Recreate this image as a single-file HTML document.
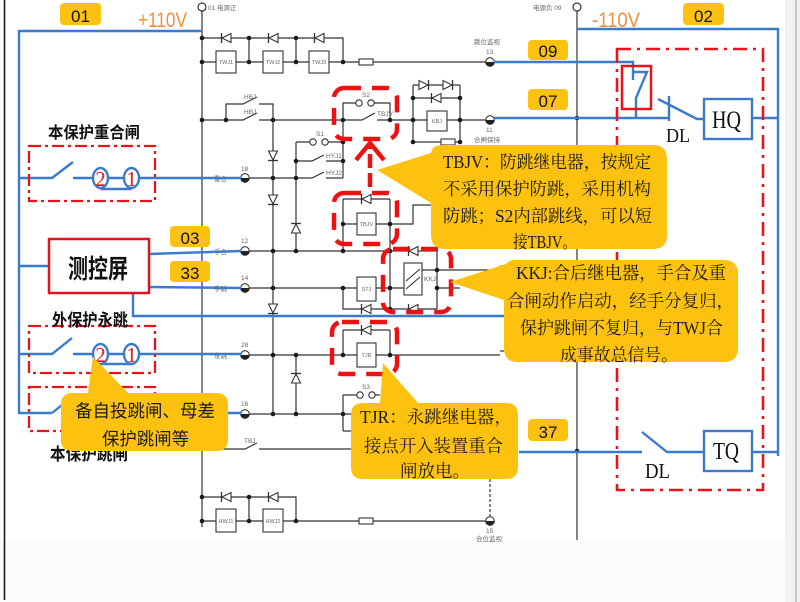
<!DOCTYPE html>
<html><head><meta charset="utf-8">
<style>html,body{margin:0;padding:0;background:#fff}svg{display:block}</style>
</head><body>
<svg xmlns="http://www.w3.org/2000/svg" width="800" height="602" viewBox="0 0 800 602">
<defs>
<g id="dr"><polygon points="-5,-4.5 -5,4.5 4,0" fill="#fff" stroke="#333" stroke-width="1.1"/><line x1="4.5" y1="-5" x2="4.5" y2="5" stroke="#333" stroke-width="1.3"/></g>
<circle id="j" r="2.3" fill="#1a1a1a"/>
<g id="t"><circle r="4.3" fill="#fff" stroke="#333" stroke-width="1.1"/><path d="M-4.3,0 A4.3,4.3 0 0 0 4.3,0 Z" fill="#222"/></g>
</defs>

<!-- background -->
<rect width="800" height="602" fill="#fff"/>
<rect x="0" y="541" width="785" height="61" fill="#fbfbf9"/>
<rect x="785" y="0" width="15" height="602" fill="#f2f2f2"/>
<line x1="796" y1="0" x2="796" y2="602" stroke="#9a9a9a" stroke-width="1"/>
<line x1="4.5" y1="0" x2="4.5" y2="600" stroke="#1a1a1a" stroke-width="1.6"/>

<!-- black circuit -->
<g fill="none" stroke="#333" stroke-width="1.2">
<path d="M202,11 V527"/>
<path d="M577,11 V540"/>
<path d="M202,38 H343 V62 M249,38 V62 M296,38 V62"/>
<path d="M202,62 H359 M373,62 H486"/>
<path d="M202,120 H243 L257,113 M259,120 H362 L375,113 M377,120 H486"/>
<path d="M226,120 V104 H243 L257,97 M259,104 H273 V120"/>
<path d="M343,120 V103 H355.8 M374.2,103 H390 V120"/>
<path d="M413,85 V142 M460,85 V142 M413,85 H460 M413,98 H460 M413,142 H460"/>
<path d="M343,120 V178 M296,142 H309.8 M328.2,142 H343 M296,161 H312 L324,155 M326,161 H343 M249,178 H312 L324,172 M326,178 H343"/>
<path d="M296,142 V251 M273,120 V414"/>
<path d="M343,199 V251 M390,199 V251 M343,199 H390 M343,224 H413 V205 H432"/>
<path d="M249,251 H437 V309 M390,251 V309"/>
<path d="M249,288 H404 M343,288 V309 H437"/>
<path d="M422,270 H500 M437,288 H460"/>
<path d="M249,355 H500 M343,330 V355 M390,330 V355 M343,330 H390"/>
<path d="M296,355 V414"/>
<path d="M249,414 H352 M343,395 V431 M343,395 H356.8 M375.2,395 H380 M343,431 H352"/>
<path d="M202,449 H245 L257,443 M259,449 H352"/>
<path d="M202,497 H296 V521 M249,497 V521 M202,521 H359 M373,521 H486"/>
<path d="M490,479 V516" stroke-dasharray="3 2"/>
<circle cx="202" cy="7" r="4"/>
<circle cx="577" cy="7" r="4"/>
<path d="M500,266 H504 M500,351 H504"/>
</g>

<!-- boxes -->
<g fill="#fff" stroke="#333" stroke-width="1.1">
<rect x="216" y="51" width="20" height="22"/>
<rect x="263" y="51" width="20" height="22"/>
<rect x="309" y="51" width="20" height="22"/>
<rect x="359" y="59" width="14" height="6"/>
<rect x="427" y="111" width="20" height="20"/>
<rect x="441" y="139" width="14" height="6"/>
<rect x="357" y="213" width="19" height="22"/>
<rect x="357" y="277" width="19" height="24"/>
<rect x="404" y="263" width="18" height="32"/>
<rect x="357" y="343" width="19" height="24"/>
<rect x="216" y="509" width="20" height="23"/>
<rect x="263" y="509" width="20" height="23"/>
<rect x="359" y="518" width="14" height="6"/>
<circle cx="359" cy="103" r="3.2"/><circle cx="371" cy="103" r="3.2"/>
<circle cx="313" cy="142" r="3.2"/><circle cx="325" cy="142" r="3.2"/>
<circle cx="360" cy="395" r="3.2"/><circle cx="372" cy="395" r="3.2"/>
</g>
<path d="M406,289 L420,277 M406,281 L420,269" stroke="#333" stroke-width="1.1" fill="none"/>

<!-- diodes -->
<use href="#dr" transform="translate(226,38) rotate(180)"/>
<use href="#dr" transform="translate(273,38) rotate(180)"/>
<use href="#dr" transform="translate(319,38) rotate(180)"/>
<use href="#dr" transform="translate(424,85)"/>
<use href="#dr" transform="translate(448,85)"/>
<use href="#dr" transform="translate(436,98) rotate(180)"/>
<use href="#dr" transform="translate(273,156) rotate(90)"/>
<use href="#dr" transform="translate(273,200) rotate(90)"/>
<use href="#dr" transform="translate(273,309) rotate(90)"/>
<use href="#dr" transform="translate(296,228) rotate(-90)"/>
<use href="#dr" transform="translate(296,378) rotate(-90)"/>
<use href="#dr" transform="translate(366,199) rotate(180)"/>
<use href="#dr" transform="translate(413,251) rotate(180)"/>
<use href="#dr" transform="translate(366,309) rotate(180)"/>
<use href="#dr" transform="translate(413,309) rotate(180)"/>
<use href="#dr" transform="translate(366,330) rotate(180)"/>
<use href="#dr" transform="translate(226,497) rotate(180)"/>
<use href="#dr" transform="translate(273,497) rotate(180)"/>

<!-- junctions -->
<g>
<use href="#j" x="202" y="38"/><use href="#j" x="249" y="38"/><use href="#j" x="296" y="38"/>
<use href="#j" x="202" y="62"/><use href="#j" x="249" y="62"/><use href="#j" x="296" y="62"/><use href="#j" x="343" y="62"/>
<use href="#j" x="202" y="120"/><use href="#j" x="226" y="120"/><use href="#j" x="273" y="120"/><use href="#j" x="343" y="120"/><use href="#j" x="390" y="120"/><use href="#j" x="413" y="120"/><use href="#j" x="460" y="120"/>
<use href="#j" x="413" y="98"/><use href="#j" x="460" y="98"/><use href="#j" x="413" y="142"/><use href="#j" x="460" y="142"/>
<use href="#j" x="343" y="142"/><use href="#j" x="296" y="161"/><use href="#j" x="343" y="161"/><use href="#j" x="273" y="178"/><use href="#j" x="296" y="178"/>
<use href="#j" x="343" y="224"/><use href="#j" x="390" y="224"/>
<use href="#j" x="273" y="251"/><use href="#j" x="296" y="251"/><use href="#j" x="343" y="251"/><use href="#j" x="390" y="251"/>
<use href="#j" x="273" y="288"/><use href="#j" x="343" y="288"/><use href="#j" x="390" y="288"/><use href="#j" x="437" y="270"/><use href="#j" x="437" y="288"/><use href="#j" x="390" y="309"/>
<use href="#j" x="273" y="355"/><use href="#j" x="296" y="355"/><use href="#j" x="343" y="355"/><use href="#j" x="390" y="355"/>
<use href="#j" x="273" y="414"/><use href="#j" x="296" y="414"/><use href="#j" x="343" y="414"/>
<use href="#j" x="202" y="497"/><use href="#j" x="249" y="497"/><use href="#j" x="202" y="521"/><use href="#j" x="249" y="521"/><use href="#j" x="296" y="521"/>
<use href="#j" x="577" y="118"/><use href="#j" x="577" y="451"/>
</g>

<!-- terminals -->
<use href="#t" x="245" y="178"/><use href="#t" x="245" y="251"/><use href="#t" x="245" y="288"/><use href="#t" x="245" y="355"/><use href="#t" x="245" y="414"/>
<use href="#t" x="490" y="62"/><use href="#t" x="490" y="120"/><use href="#t" x="490" y="521"/>

<!-- small gray labels -->
<g font-family="Liberation Sans, Noto Sans CJK SC, sans-serif" font-size="6.5" fill="#666">
<text x="208" y="10">01 电源正</text>
<text x="533" y="10">电源负 09</text>
<text x="474" y="44">跳位监视</text>
<text x="486" y="54">13</text>
<text x="486" y="132">11</text>
<text x="474" y="142">合闸保持</text>
<text x="486" y="533">15</text>
<text x="476" y="541">合位监视</text>
<text x="241" y="171">18</text>
<text x="241" y="243">12</text>
<text x="241" y="280">14</text>
<text x="241" y="347">28</text>
<text x="241" y="406">16</text>
<text x="214" y="181">重合</text>
<text x="214" y="254">手合</text>
<text x="214" y="291">手跳</text>
<text x="214" y="358">永跳</text>
<text x="244" y="99">HBJ</text>
<text x="244" y="114">HBJ</text>
<text x="362" y="97">S2</text>
<text x="377" y="116">TBJV</text>
<text x="316" y="136">S1</text>
<text x="326" y="158">HYJ1</text>
<text x="326" y="175">HYJ2</text>
<text x="424" y="281">KKJ</text>
<text x="362" y="389">S3</text>
<text x="244" y="443">TBJ</text>
<g font-size="5.5" text-anchor="middle">
<text x="226" y="64">TWJ1</text><text x="273" y="64">TWJ2</text><text x="319" y="64">TWJ3</text>
<text x="437" y="123">KBJ</text>
<text x="366.5" y="226">TBJV</text>
<text x="366.5" y="291">STJ</text>
<text x="366.5" y="357">TJR</text>
<text x="226" y="523">HWJ1</text><text x="273" y="523">HWJ2</text>
</g>
</g>

<!-- blue wiring -->
<g fill="none" stroke="#3b7bce" stroke-width="2.4">
<path d="M202,31 H19 V413 H52"/>
<path d="M19,178 H52 L73,162 M73,178 H93 M108,178 H124 M100.5,189 H131.5 M139,178 H241"/>
<path d="M19,266 H49"/>
<path d="M149,254 L241,251 M149,287 L241,288 M133,293 V316 H506"/>
<path d="M19,354 H52 L72,338 M73,354 H93 M108,354 H124 M100.5,364 H131.5 M139,354 H241"/>
<path d="M52,413 L72,397 M228,413 H241"/>
<path d="M577,29 H778 V456"/>
<path d="M494,62 H633 V80 M633,72 H647 L636,98 V118"/>
<path d="M494,118 H669 M669,96 V121 M658,99 L697,119 H704 M752,118 H778"/>
<path d="M519,452 H642 M642,432 L667,452 H704 M752,452 H778"/>
<rect x="704" y="99" width="48" height="40"/>
<rect x="704" y="431" width="48" height="40"/>
<ellipse cx="100.5" cy="178" rx="7.5" ry="10"/>
<ellipse cx="131.5" cy="178" rx="7.5" ry="10"/>
<ellipse cx="100.5" cy="354" rx="7.5" ry="10"/>
<ellipse cx="131.5" cy="354" rx="7.5" ry="10"/>
</g>

<!-- red dash-dot frames -->
<g fill="none" stroke="#e8141c" stroke-width="2.3" stroke-dasharray="12 4 3 4">
<rect x="29" y="146" width="126" height="55"/>
<rect x="29" y="326" width="126" height="47"/>
<rect x="29" y="387" width="126" height="44"/>
<rect x="617" y="49" width="146" height="441" stroke-width="2.6" stroke-dasharray="14 6 3 6"/>
</g>
<rect x="622" y="66" width="29" height="43" fill="none" stroke="#e8141c" stroke-width="2.5"/>
<rect x="49" y="239" width="100" height="54" fill="#fff" stroke="#e0141e" stroke-width="2.5"/>

<!-- red thick dashed rounded boxes -->
<g fill="none" stroke="#ee1111" stroke-width="4.5" stroke-dasharray="17 11">
<rect x="334" y="88" width="63" height="51" rx="10"/>
<rect x="334" y="193" width="63" height="51" rx="10"/>
<rect x="383" y="249" width="68" height="63" rx="10"/>
<rect x="332" y="322" width="65" height="52" rx="10"/>
</g>

<!-- plug digits -->
<g font-family="Liberation Serif, serif" font-size="21" fill="#e8141c" text-anchor="middle">
<text x="100.5" y="186">2</text><text x="131.5" y="186">1</text>
<text x="100.5" y="362">2</text><text x="131.5" y="362">1</text>
</g>

<!-- callout bubbles -->
<g fill="#fdc20f">
<path d="M443,145 H653 Q667,145 667,159 V235 Q667,249 653,249 H445 Q431,249 431,235 V203 L377,170 L431,153 Q432,145 443,145 Z"/>
<path d="M516,260 H724 Q738,260 738,274 V348 Q738,362 724,362 H518 Q504,362 504,348 V300 L450,282 L506,264 Q509,260 516,260 Z"/>
<path d="M363,403 H380 L383,363 L418,403 H506 Q518,403 518,415 V467 Q518,479 506,479 H363 Q351,479 351,467 V415 Q351,403 363,403 Z"/>
<path d="M73,393 H88 L93,357 L128,393 H216 Q228,393 228,405 V439 Q228,451 216,451 H73 Q61,451 61,439 V405 Q61,393 73,393 Z"/>
</g>

<!-- red arrow -->
<g fill="none" stroke="#ee1111" stroke-width="4.5">
<path d="M370,187 V146" stroke-dasharray="14 5"/>
<path d="M356,160 L370,143 L384,160"/>
</g>

<!-- yellow number labels -->
<g fill="#fdc20f">
<rect x="60" y="3" width="41" height="22" rx="4"/>
<rect x="683" y="3" width="41" height="22" rx="4"/>
<rect x="528" y="40" width="40" height="20" rx="4"/>
<rect x="528" y="89" width="40" height="21" rx="4"/>
<rect x="170" y="226" width="40" height="21" rx="4"/>
<rect x="170" y="261" width="40" height="21" rx="4"/>
<rect x="528" y="419" width="40" height="22" rx="4"/>
</g>
<g font-family="Liberation Sans, sans-serif" font-size="17" fill="#111" text-anchor="middle">
<text x="80.5" y="22">01</text>
<text x="703.5" y="22">02</text>
<text x="548" y="57">09</text>
<text x="548" y="107">07</text>
<text x="190" y="244">03</text>
<text x="190" y="279">33</text>
<text x="548" y="438">37</text>
</g>

<!-- voltage labels -->
<g font-family="Liberation Sans, sans-serif" font-size="21" fill="#ef8f3c">
<text x="138" y="27" textLength="49" lengthAdjust="spacingAndGlyphs">+110V</text>
<text x="592" y="27" textLength="48" lengthAdjust="spacingAndGlyphs">-110V</text>
</g>

<!-- HQ / TQ / DL -->
<g font-family="Liberation Serif, serif" fill="#111">
<text x="712" y="128" font-size="25" textLength="29" lengthAdjust="spacingAndGlyphs">HQ</text>
<text x="713" y="459" font-size="24" textLength="26" lengthAdjust="spacingAndGlyphs">TQ</text>
<text x="666" y="142" font-size="20" textLength="24" lengthAdjust="spacingAndGlyphs">DL</text>
<text x="645" y="478" font-size="21" textLength="25" lengthAdjust="spacingAndGlyphs">DL</text>
</g>

<!-- left bold labels -->
<g font-family="Liberation Sans, Noto Sans CJK SC, sans-serif" font-weight="bold" fill="#111">
<text x="48" y="138" font-size="16" textLength="92" lengthAdjust="spacingAndGlyphs">本保护重合闸</text>
<text x="52" y="326" font-size="17" textLength="76" lengthAdjust="spacingAndGlyphs">外保护永跳</text>
<text x="68" y="278" font-size="26" textLength="60" lengthAdjust="spacingAndGlyphs">测控屏</text>
</g>
<!-- "本保护跳闸" partially hidden under bubble -->
<text x="50" y="460" font-family="Liberation Sans, Noto Sans CJK SC, sans-serif" font-weight="bold" font-size="17" fill="#111" textLength="78" lengthAdjust="spacingAndGlyphs">本保护跳闸</text>
<path d="M73,393 H88 L93,357 L128,393 H216 Q228,393 228,405 V439 Q228,451 216,451 H73 Q61,451 61,439 V405 Q61,393 73,393 Z" fill="#fdc20f"/>

<!-- bubble texts -->
<g font-family="Liberation Serif, Noto Serif CJK SC, serif" font-size="17.5" fill="#1a1a1a">
<text x="443" y="168" textLength="208" lengthAdjust="spacingAndGlyphs">TBJV：防跳继电器，按规定</text>
<text x="443" y="195" textLength="208" lengthAdjust="spacingAndGlyphs">不采用保护防跳，采用机构</text>
<text x="443" y="222" textLength="209" lengthAdjust="spacingAndGlyphs">防跳；S2内部跳线，可以短</text>
<text x="513" y="248" textLength="64" lengthAdjust="spacingAndGlyphs">接TBJV。</text>

<text x="516" y="279" textLength="210" lengthAdjust="spacingAndGlyphs">KKJ:合后继电器，手合及重</text>
<text x="507" y="307" textLength="227" lengthAdjust="spacingAndGlyphs">合闸动作启动，经手分复归，</text>
<text x="520" y="334" textLength="203" lengthAdjust="spacingAndGlyphs">保护跳闸不复归，与TWJ合</text>
<text x="560" y="361" textLength="118" lengthAdjust="spacingAndGlyphs">成事故总信号。</text>

<text x="360" y="423" textLength="152" lengthAdjust="spacingAndGlyphs">TJR：永跳继电器，</text>
<text x="364" y="452" textLength="139" lengthAdjust="spacingAndGlyphs">接点开入装置重合</text>
<text x="400" y="477" textLength="70" lengthAdjust="spacingAndGlyphs">闸放电。</text>
</g>
<g font-family="Liberation Sans, Noto Sans CJK SC, sans-serif" font-size="17.5" fill="#1a1a1a">
<text x="75" y="417" textLength="140" lengthAdjust="spacingAndGlyphs">备自投跳闸、母差</text>
<text x="102" y="445" textLength="87" lengthAdjust="spacingAndGlyphs">保护跳闸等</text>
</g>
</svg>
</body></html>
